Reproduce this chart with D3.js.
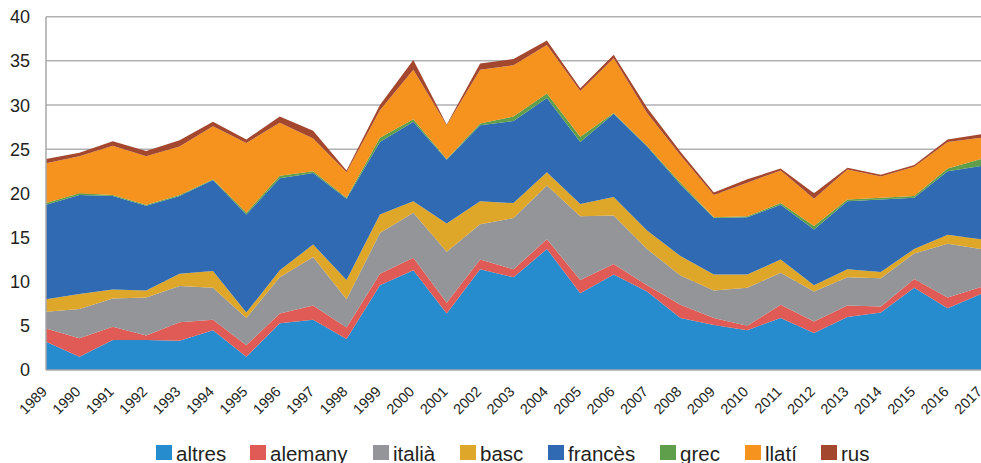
<!DOCTYPE html>
<html>
<head>
<meta charset="utf-8">
<script src="https://cdn.jsdelivr.net/npm/d3@7"></script>
<style>
  body { margin: 0; background: #fff; }
  svg { display: block; font-family: "Liberation Sans", Arial, sans-serif; }
</style>
</head>
<body>
<svg width="981" height="463"></svg>
<script>
const years = [1989, 1990, 1991, 1992, 1993, 1994, 1995, 1996, 1997, 1998, 1999, 2000, 2001, 2002, 2003,
  2004, 2005, 2006, 2007, 2008, 2009, 2010, 2011, 2012, 2013, 2014, 2015, 2016, 2017];

const seriesNames = ["altres", "alemany", "italià", "basc", "francès", "grec", "llatí", "rus"];
const seriesColors = ["#268cce", "#e15b56", "#939598", "#dea72a", "#2f6ab2", "#5f9e4a", "#f6921e", "#a3472f"];

const altres  = [3.2, 1.5, 3.4, 3.4, 3.3, 4.5, 1.5, 5.3, 5.7, 3.5, 9.6, 11.3, 6.4, 11.4, 10.5, 13.7, 8.7, 10.8, 8.9, 5.9, 5.1, 4.5, 5.9, 4.2, 6.0, 6.5, 9.3, 7.0, 8.6];
const alemany = [1.5, 2.1, 1.5, 0.5, 2.1, 1.2, 1.3, 1.1, 1.6, 1.3, 1.3, 1.4, 1.2, 1.1, 0.9, 1.1, 1.5, 1.2, 0.7, 1.5, 0.8, 0.5, 1.5, 1.3, 1.3, 0.7, 1.0, 1.2, 0.8];
const italia  = [1.9, 3.3, 3.2, 4.3, 4.1, 3.6, 3.1, 4.1, 5.5, 3.2, 4.6, 5.1, 5.8, 4.0, 5.8, 6.1, 7.2, 5.5, 4.1, 3.3, 3.1, 4.3, 3.6, 3.4, 3.2, 3.2, 2.9, 6.1, 4.3];
const basc    = [1.4, 1.7, 1.0, 0.8, 1.4, 1.9, 0.6, 0.8, 1.4, 2.2, 2.1, 1.3, 3.2, 2.6, 1.7, 1.5, 1.4, 2.1, 2.1, 2.2, 1.8, 1.5, 1.5, 0.7, 0.9, 0.7, 0.5, 1.0, 1.1];
const frances = [10.7, 11.2, 10.6, 9.6, 8.8, 10.3, 11.1, 10.4, 8.1, 9.2, 8.2, 9.0, 7.2, 8.6, 9.3, 8.4, 7.0, 9.4, 9.5, 8.1, 6.4, 6.5, 6.2, 6.3, 7.7, 8.2, 5.8, 7.2, 8.3];
const grec    = [0.2, 0.2, 0.1, 0.1, 0.1, 0.1, 0.2, 0.3, 0.2, 0.1, 0.5, 0.3, 0.1, 0.2, 0.5, 0.5, 0.6, 0.1, 0.1, 0.2, 0.1, 0.1, 0.2, 0.4, 0.2, 0.2, 0.2, 0.3, 0.8];
const llati   = [4.5, 4.2, 5.6, 5.5, 5.5, 6.0, 7.9, 6.0, 3.7, 2.9, 3.1, 5.6, 3.8, 6.1, 5.8, 5.5, 5.2, 6.2, 3.7, 3.1, 2.5, 3.8, 3.7, 3.1, 3.4, 2.4, 3.3, 3.0, 2.4];
const rus     = [0.5, 0.4, 0.5, 0.6, 0.7, 0.5, 0.4, 0.7, 0.9, 0.2, 0.6, 1.1, 0.1, 0.7, 0.7, 0.5, 0.3, 0.4, 0.6, 0.4, 0.3, 0.4, 0.2, 0.6, 0.2, 0.2, 0.2, 0.3, 0.4];

const yTicks = [0, 5, 10, 15, 20, 25, 30, 35, 40];

const values = [altres, alemany, italia, basc, frances, grec, llati, rus];
const rows = years.map((yr, i) => {
  const r = { year: yr };
  seriesNames.forEach((n, k) => { r[n] = values[k][i]; });
  return r;
});

const svg = d3.select("svg");
const plotLeft = 46, plotRight = 981, plotTop = 16.7, plotBottom = 370;

const x = d3.scalePoint().domain(years).range([plotLeft, plotRight]);
const y = d3.scaleLinear().domain([0, 40]).range([plotBottom, plotTop]);

// grid lines
svg.append("g")
  .selectAll("line")
  .data(yTicks.filter(d => d > 0))
  .join("line")
  .attr("x1", plotLeft).attr("x2", plotRight)
  .attr("y1", d => y(d)).attr("y2", d => y(d))
  .attr("stroke", "#b1b1b3")
  .attr("stroke-width", 1.5);

const stack = d3.stack().keys(seriesNames);
const layers = stack(rows);

const area = d3.area()
  .x(d => x(d.data.year))
  .y0(d => y(d[0]))
  .y1(d => y(d[1]));

svg.append("g")
  .selectAll("path")
  .data(layers)
  .join("path")
  .attr("fill", (d, i) => seriesColors[i])
  .attr("d", area);

// axes lines
svg.append("line")
  .attr("x1", plotLeft).attr("x2", plotLeft).attr("y1", plotTop).attr("y2", plotBottom)
  .attr("stroke", "#a7a7a9").attr("stroke-width", 1.5);
svg.append("line")
  .attr("x1", plotLeft).attr("x2", plotRight).attr("y1", plotBottom).attr("y2", plotBottom)
  .attr("stroke", "#a7a7a9").attr("stroke-width", 1.5);

// y labels
svg.append("g")
  .selectAll("text")
  .data(yTicks)
  .join("text")
  .attr("x", 30)
  .attr("y", d => y(d))
  .attr("dy", "0.36em")
  .attr("text-anchor", "end")
  .attr("font-size", 18)
  .attr("fill", "#231f20")
  .text(d => d);

// x labels
svg.append("g")
  .selectAll("text")
  .data(years)
  .join("text")
  .attr("transform", d => `translate(${x(d) + 2},${plotBottom + 22.5}) rotate(-45)`)
  .attr("text-anchor", "end")
  .attr("font-size", 14.5)
  .attr("fill", "#231f20")
  .text(d => d);

// legend
const legendX = [156, 250, 373, 460, 548, 660, 745, 821];
const lg = svg.append("g");
seriesNames.forEach((n, i) => {
  lg.append("rect")
    .attr("x", legendX[i]).attr("y", 445)
    .attr("width", 16).attr("height", 15)
    .attr("fill", seriesColors[i]);
  lg.append("text")
    .attr("x", legendX[i] + 20).attr("y", 461)
    .attr("font-size", 20.5)
    .attr("fill", "#231f20")
    .text(n);
});
</script>
</body>
</html>
